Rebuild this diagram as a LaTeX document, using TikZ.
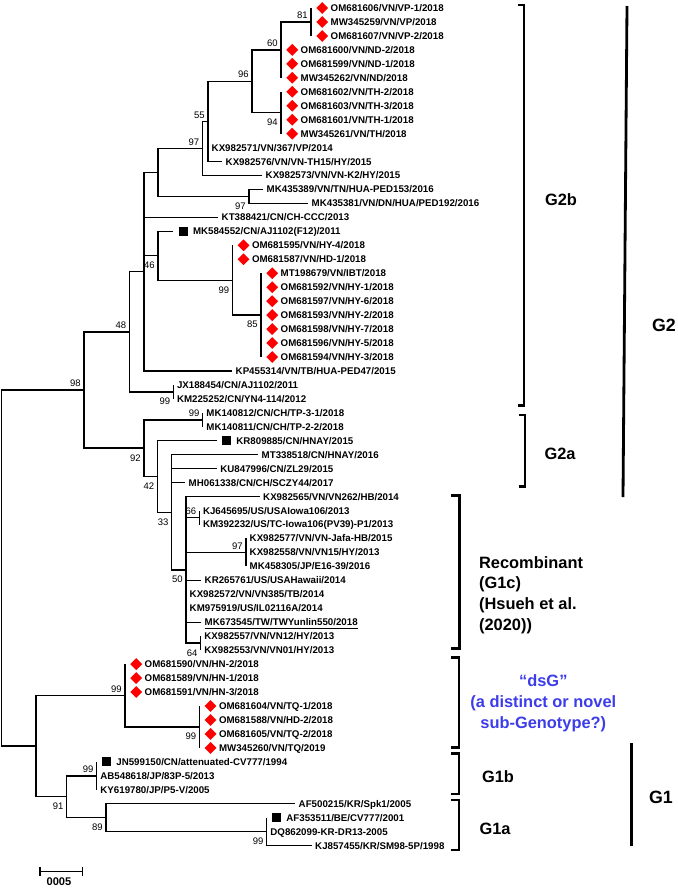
\documentclass[tikz,border=0pt]{standalone}
\usepackage{fontspec}
\setmainfont{Liberation Sans}
\usetikzlibrary{positioning,shapes.geometric,arrows.meta}
\definecolor{dsgblue}{RGB}{60,60,235}

\begin{document}
\begin{tikzpicture}[x=0.03cm, y=-0.03cm,
  branch/.style={line width=1.2pt},
  tiplbl/.style={anchor=west, inner sep=0pt, text height=5.9pt, text depth=0pt, font=\fontsize{8.3}{10}\selectfont\bfseries},
  vnmark/.style={diamond, fill=red, inner sep=0pt, minimum width=3.6mm, minimum height=3.6mm},
  refmark/.style={rectangle, fill=black, inner sep=0pt, minimum size=2.7mm},
  boot/.style={font=\fontsize{8.1}{10}\selectfont, inner sep=0.9mm},
  bootup/.style={boot, anchor=south east},
  bootdn/.style={boot, anchor=north east, yshift=-0.9mm},
  bracket/.style={line width=2.4pt},
  grp/.style={font=\fontsize{14}{17.6}\selectfont\bfseries},
  geno/.style={font=\fontsize{15.2}{18}\selectfont\bfseries}]
\useasboundingbox (0,0) rectangle (678,890);

% internal nodes
\coordinate (root) at (1.5,568.07);
\coordinate (n98) at (84,390);
\coordinate (n48) at (129.3,331.81);
\coordinate (g2bcore) at (144,271.72);
\coordinate (nC) at (158,172.47);
\coordinate (n97a) at (202.3,148.47);
\coordinate (n55) at (208,121.43);
\coordinate (n96) at (252,81.29);
\coordinate (n60) at (281,49.88);
\coordinate (n81) at (311,21.96);
\coordinate (n94) at (281,112.7);
\coordinate (n97b) at (249,196.46);
\coordinate (n46) at (158,255.79);
\coordinate (n99hy) at (232.3,280.22);
\coordinate (n85) at (261,315.12);
\coordinate (n99jx) at (173.3,391.9);
\coordinate (n92) at (144,448.18);
\coordinate (n99tp) at (202.7,419.82);
\coordinate (n42) at (157.3,476.54);
\coordinate (n33) at (171.7,512.31);
\coordinate (n50) at (186,569.89);
\coordinate (n66) at (199.3,517.54);
\coordinate (n97c) at (246,552.44);
\coordinate (n64) at (200.7,643.18);
\coordinate (g1root) at (36,746.14);
\coordinate (n99hn) at (125,695.53);
\coordinate (n99tq) at (199.3,726.94);
\coordinate (n91) at (66.7,796.74);
\coordinate (n99b) at (96.7,775.8);
\coordinate (n89) at (106,817.68);
\coordinate (n99a) at (266.7,831.64);

% G2b tips
\coordinate (OM681606) at (311,8);
\node[vnmark, right=1.5mm of OM681606] (OM681606d) {};
\node[tiplbl, right=0.6mm of OM681606d] (OM681606t) {OM681606/VN/VP-1/2018};
\coordinate (MW345259) at (311,21.96);
\node[vnmark, right=1.5mm of MW345259] (MW345259d) {};
\node[tiplbl, right=0.6mm of MW345259d] (MW345259t) {MW345259/VN/VP/2018};
\coordinate (OM681607) at (311,35.92);
\node[vnmark, right=1.5mm of OM681607] (OM681607d) {};
\node[tiplbl, right=0.6mm of OM681607d] (OM681607t) {OM681607/VN/VP-2/2018};
\coordinate (OM681600) at (281,49.88);
\node[vnmark, right=1.5mm of OM681600] (OM681600d) {};
\node[tiplbl, right=0.6mm of OM681600d] (OM681600t) {OM681600/VN/ND-2/2018};
\coordinate (OM681599) at (281,63.84);
\node[vnmark, right=1.5mm of OM681599] (OM681599d) {};
\node[tiplbl, right=0.6mm of OM681599d] (OM681599t) {OM681599/VN/ND-1/2018};
\coordinate (MW345262) at (281,77.8);
\node[vnmark, right=1.5mm of MW345262] (MW345262d) {};
\node[tiplbl, right=0.6mm of MW345262d] (MW345262t) {MW345262/VN/ND/2018};
\coordinate (OM681602) at (281,91.76);
\node[vnmark, right=1.5mm of OM681602] (OM681602d) {};
\node[tiplbl, right=0.6mm of OM681602d] (OM681602t) {OM681602/VN/TH-2/2018};
\coordinate (OM681603) at (281,105.72);
\node[vnmark, right=1.5mm of OM681603] (OM681603d) {};
\node[tiplbl, right=0.6mm of OM681603d] (OM681603t) {OM681603/VN/TH-3/2018};
\coordinate (OM681601) at (281,119.68);
\node[vnmark, right=1.5mm of OM681601] (OM681601d) {};
\node[tiplbl, right=0.6mm of OM681601d] (OM681601t) {OM681601/VN/TH-1/2018};
\coordinate (MW345261) at (281,133.64);
\node[vnmark, right=1.5mm of MW345261] (MW345261d) {};
\node[tiplbl, right=0.6mm of MW345261d] (MW345261t) {MW345261/VN/TH/2018};
\coordinate (KX982571) at (208,147.6);
\node[tiplbl, right=1.05mm of KX982571] (KX982571t) {KX982571/VN/367/VP/2014};
\coordinate (KX982576) at (222,161.56);
\node[tiplbl, right=1.05mm of KX982576] (KX982576t) {KX982576/VN/VN-TH15/HY/2015};
\coordinate (KX982573) at (262,175.52);
\node[tiplbl, right=1.05mm of KX982573] (KX982573t) {KX982573/VN/VN-K2/HY/2015};
\coordinate (MK435389) at (263,189.48);
\node[tiplbl, right=1.05mm of MK435389] (MK435389t) {MK435389/VN/TN/HUA-PED153/2016};
\coordinate (MK435381) at (308,203.44);
\node[tiplbl, right=1.05mm of MK435381] (MK435381t) {MK435381/VN/DN/HUA/PED192/2016};
\coordinate (KT388421) at (218,217.4);
\node[tiplbl, right=1.05mm of KT388421] (KT388421t) {KT388421/CN/CH-CCC/2013};
\coordinate (MK584552) at (173.3,231.36);
\node[refmark, right=1.5mm of MK584552] (MK584552s) {};
\node[tiplbl, right=1.5mm of MK584552s] (MK584552t) {MK584552/CN/AJ1102(F12)/2011};
\coordinate (OM681595) at (232.3,245.32);
\node[vnmark, right=1.5mm of OM681595] (OM681595d) {};
\node[tiplbl, right=0.6mm of OM681595d] (OM681595t) {OM681595/VN/HY-4/2018};
\coordinate (OM681587) at (232.3,259.28);
\node[vnmark, right=1.5mm of OM681587] (OM681587d) {};
\node[tiplbl, right=0.6mm of OM681587d] (OM681587t) {OM681587/VN/HD-1/2018};
\coordinate (MT198679) at (261,273.24);
\node[vnmark, right=1.5mm of MT198679] (MT198679d) {};
\node[tiplbl, right=0.6mm of MT198679d] (MT198679t) {MT198679/VN/IBT/2018};
\coordinate (OM681592) at (261,287.2);
\node[vnmark, right=1.5mm of OM681592] (OM681592d) {};
\node[tiplbl, right=0.6mm of OM681592d] (OM681592t) {OM681592/VN/HY-1/2018};
\coordinate (OM681597) at (261,301.16);
\node[vnmark, right=1.5mm of OM681597] (OM681597d) {};
\node[tiplbl, right=0.6mm of OM681597d] (OM681597t) {OM681597/VN/HY-6/2018};
\coordinate (OM681593) at (261,315.12);
\node[vnmark, right=1.5mm of OM681593] (OM681593d) {};
\node[tiplbl, right=0.6mm of OM681593d] (OM681593t) {OM681593/VN/HY-2/2018};
\coordinate (OM681598) at (261,329.08);
\node[vnmark, right=1.5mm of OM681598] (OM681598d) {};
\node[tiplbl, right=0.6mm of OM681598d] (OM681598t) {OM681598/VN/HY-7/2018};
\coordinate (OM681596) at (261,343.04);
\node[vnmark, right=1.5mm of OM681596] (OM681596d) {};
\node[tiplbl, right=0.6mm of OM681596d] (OM681596t) {OM681596/VN/HY-5/2018};
\coordinate (OM681594) at (261,357);
\node[vnmark, right=1.5mm of OM681594] (OM681594d) {};
\node[tiplbl, right=0.6mm of OM681594d] (OM681594t) {OM681594/VN/HY-3/2018};
\coordinate (KP455314) at (232,370.96);
\node[tiplbl, right=1.05mm of KP455314] (KP455314t) {KP455314/VN/TB/HUA-PED47/2015};
\coordinate (JX188454) at (173.3,384.92);
\node[tiplbl, right=1.05mm of JX188454] (JX188454t) {JX188454/CN/AJ1102/2011};
\coordinate (KM225252) at (173.3,398.88);
\node[tiplbl, right=1.05mm of KM225252] (KM225252t) {KM225252/CN/YN4-114/2012};

% G2a and recombinant tips
\coordinate (MK140812) at (202.7,412.84);
\node[tiplbl, right=1.05mm of MK140812] (MK140812t) {MK140812/CN/CH/TP-3-1/2018};
\coordinate (MK140811) at (202.7,426.8);
\node[tiplbl, right=1.05mm of MK140811] (MK140811t) {MK140811/CN/CH/TP-2-2/2018};
\coordinate (KR809885) at (216.7,440.76);
\node[refmark, right=1.5mm of KR809885] (KR809885s) {};
\node[tiplbl, right=1.5mm of KR809885s] (KR809885t) {KR809885/CN/HNAY/2015};
\coordinate (MT338518) at (258,454.72);
\node[tiplbl, right=1.05mm of MT338518] (MT338518t) {MT338518/CN/HNAY/2016};
\coordinate (KU847996) at (216.7,468.68);
\node[tiplbl, right=1.05mm of KU847996] (KU847996t) {KU847996/CN/ZL29/2015};
\coordinate (MH061338) at (185,482.64);
\node[tiplbl, right=1.05mm of MH061338] (MH061338t) {MH061338/CN/CH/SCZY44/2017};
\coordinate (KX982565) at (259.5,496.6);
\node[tiplbl, right=1.05mm of KX982565] (KX982565t) {KX982565/VN/VN262/HB/2014};
\coordinate (KJ645695) at (199.3,510.56);
\node[tiplbl, right=1.05mm of KJ645695] (KJ645695t) {KJ645695/US/USAIowa106/2013};
\coordinate (KM392232) at (199.3,524.52);
\node[tiplbl, right=1.05mm of KM392232] (KM392232t) {KM392232/US/TC-Iowa106(PV39)-P1/2013};
\coordinate (KX982577) at (246,538.48);
\node[tiplbl, right=1.05mm of KX982577] (KX982577t) {KX982577/VN/VN-Jafa-HB/2015};
\coordinate (KX982558) at (246,552.44);
\node[tiplbl, right=1.05mm of KX982558] (KX982558t) {KX982558/VN/VN15/HY/2013};
\coordinate (MK458305) at (246,566.4);
\node[tiplbl, right=1.05mm of MK458305] (MK458305t) {MK458305/JP/E16-39/2016};
\coordinate (KR265761) at (201,580.36);
\node[tiplbl, right=1.05mm of KR265761] (KR265761t) {KR265761/US/USAHawaii/2014};
\coordinate (KX982572) at (186,594.32);
\node[tiplbl, right=1.05mm of KX982572] (KX982572t) {KX982572/VN/VN385/TB/2014};
\coordinate (KM975919) at (186,608.28);
\node[tiplbl, right=1.05mm of KM975919] (KM975919t) {KM975919/US/IL02116A/2014};
\coordinate (MK673545) at (201,622.24);
\node[tiplbl, right=1.05mm of MK673545] (MK673545t) {MK673545/TW/TWYunlin550/2018};
\draw[line width=0.6pt] ([yshift=-2.2pt]MK673545t.south west) -- ([yshift=-2.2pt]MK673545t.south east);
\coordinate (KX982557) at (200.7,636.2);
\node[tiplbl, right=1.05mm of KX982557] (KX982557t) {KX982557/VN/VN12/HY/2013};
\coordinate (KX982553) at (200.7,650.16);
\node[tiplbl, right=1.05mm of KX982553] (KX982553t) {KX982553/VN/VN01/HY/2013};

% dsG tips
\coordinate (OM681590) at (125,664.12);
\node[vnmark, right=1.5mm of OM681590] (OM681590d) {};
\node[tiplbl, right=0.6mm of OM681590d] (OM681590t) {OM681590/VN/HN-2/2018};
\coordinate (OM681589) at (125,678.08);
\node[vnmark, right=1.5mm of OM681589] (OM681589d) {};
\node[tiplbl, right=0.6mm of OM681589d] (OM681589t) {OM681589/VN/HN-1/2018};
\coordinate (OM681591) at (125,692.04);
\node[vnmark, right=1.5mm of OM681591] (OM681591d) {};
\node[tiplbl, right=0.6mm of OM681591d] (OM681591t) {OM681591/VN/HN-3/2018};
\coordinate (OM681604) at (199.3,706);
\node[vnmark, right=1.5mm of OM681604] (OM681604d) {};
\node[tiplbl, right=0.6mm of OM681604d] (OM681604t) {OM681604/VN/TQ-1/2018};
\coordinate (OM681588) at (199.3,719.96);
\node[vnmark, right=1.5mm of OM681588] (OM681588d) {};
\node[tiplbl, right=0.6mm of OM681588d] (OM681588t) {OM681588/VN/HD-2/2018};
\coordinate (OM681605) at (199.3,733.92);
\node[vnmark, right=1.5mm of OM681605] (OM681605d) {};
\node[tiplbl, right=0.6mm of OM681605d] (OM681605t) {OM681605/VN/TQ-2/2018};
\coordinate (MW345260) at (199.3,747.88);
\node[vnmark, right=1.5mm of MW345260] (MW345260d) {};
\node[tiplbl, right=0.6mm of MW345260d] (MW345260t) {MW345260/VN/TQ/2019};

% G1 tips
\coordinate (JN599150) at (96.7,761.84);
\node[refmark, right=1.5mm of JN599150] (JN599150s) {};
\node[tiplbl, right=1.5mm of JN599150s] (JN599150t) {JN599150/CN/attenuated-CV777/1994};
\coordinate (AB548618) at (96.7,775.8);
\node[tiplbl, right=1.05mm of AB548618] (AB548618t) {AB548618/JP/83P-5/2013};
\coordinate (KY619780) at (96.7,789.76);
\node[tiplbl, right=1.05mm of KY619780] (KY619780t) {KY619780/JP/P5-V/2005};
\coordinate (AF500215) at (295,803.72);
\node[tiplbl, right=1.05mm of AF500215] (AF500215t) {AF500215/KR/Spk1/2005};
\coordinate (AF353511) at (266.7,817.68);
\node[refmark, right=1.5mm of AF353511] (AF353511s) {};
\node[tiplbl, right=1.5mm of AF353511s] (AF353511t) {AF353511/BE/CV777/2001};
\coordinate (DQ862099) at (266.7,831.64);
\node[tiplbl, right=1.05mm of DQ862099] (DQ862099t) {DQ862099-KR-DR13-2005};
\coordinate (KJ857455) at (311.5,845.6);
\node[tiplbl, right=1.05mm of KJ857455] (KJ857455t) {KJ857455/KR/SM98-5P/1998};

% branches
\draw[branch] (root) |- (n98) (root) |- (g1root);
\draw[branch] (n98) |- (n48) (n98) |- (n92);
\draw[branch] (n48) |- (g2bcore) (n48) |- (n99jx);
\draw[branch] (g2bcore) |- (nC) (g2bcore) |- (KT388421) (g2bcore) |- (n46) (g2bcore) |- (KP455314);
\draw[branch] (nC) |- (n97a) (nC) |- (n97b);
\draw[branch] (n97a) |- (n55) (n97a) |- (KX982573);
\draw[branch] (n55) |- (n96) (n55) |- (KX982571) (n55) |- (KX982576);
\draw[branch] (n96) |- (n60) (n96) |- (n94);
\draw[branch] (n60) |- (n81) (n60) |- (OM681600) (n60) |- (OM681599) (n60) |- (MW345262);
\draw[branch] (n81) |- (OM681606) (n81) |- (MW345259) (n81) |- (OM681607);
\draw[branch] (n94) |- (OM681602) (n94) |- (OM681603) (n94) |- (OM681601) (n94) |- (MW345261);
\draw[branch] (n97b) |- (MK435389) (n97b) |- (MK435381);
\draw[branch] (n46) |- (MK584552) (n46) |- (n99hy);
\draw[branch] (n99hy) |- (OM681595) (n99hy) |- (OM681587) (n99hy) |- (n85);
\draw[branch] (n85) |- (MT198679) (n85) |- (OM681594);
\draw[branch] (n99jx) |- (JX188454) (n99jx) |- (KM225252);
\draw[branch] (n92) |- (n99tp) (n92) |- (n42);
\draw[branch] (n99tp) |- (MK140812) (n99tp) |- (MK140811);
\draw[branch] (n42) |- (KR809885) (n42) |- (n33);
\draw[branch] (n33) |- (MT338518) (n33) |- (KU847996) (n33) |- (MH061338) (n33) |- (n50);
\draw[branch] (n50) |- (KX982565) (n50) |- (n66) (n50) |- (n97c) (n50) |- (KR265761)
  (n50) |- (KX982572) (n50) |- (KM975919) (n50) |- (MK673545) (n50) |- (n64);
\draw[branch] (n66) |- (KJ645695) (n66) |- (KM392232);
\draw[branch] (n97c) |- (KX982577) (n97c) |- (MK458305);
\draw[branch] (n64) |- (KX982557) (n64) |- (KX982553);
\draw[branch] (g1root) |- (n99hn) (g1root) |- (n91);
\draw[branch] (n99hn) |- (OM681590) (n99hn) |- (n99tq);
\draw[branch] (n99tq) |- (OM681604) (n99tq) |- (MW345260);
\draw[branch] (n91) |- (n99b) (n91) |- (n89);
\draw[branch] (n99b) |- (JN599150) (n99b) |- (KY619780);
\draw[branch] (n89) |- (AF500215) (n89) |- (n99a);
\draw[branch] (n99a) |- (AF353511) (n99a) |- (KJ857455);

% bootstrap values
\node[bootup] (b81) at (n81) {81};
\node[bootup] (b60) at (n60) {60};
\node[bootup] (b96) at (n96) {96};
\node[bootup] (b55) at (n55) {55};
\node[bootup] (b97a) at (n97a) {97};
\node[bootup] (b48) at (n48) {48};
\node[bootup] (b98) at (n98) {98};
\node[bootup] (b99tp) at (n99tp) {99};
\node[bootup] (b66) at (n66) {66};
\node[bootup] (b97c) at (n97c) {97};
\node[bootup] (b99hn) at (n99hn) {99};
\node[bootup] (b99b) at (n99b) {99};
\node[bootdn] (b94) at (n94) {94};
\node[bootdn] (b97b) at (n97b) {97};
\node[bootdn] (b46) at (n46) {46};
\node[bootdn] (b99hy) at (n99hy) {99};
\node[bootdn] (b85) at (n85) {85};
\node[bootdn] (b99jx) at (n99jx) {99};
\node[bootdn] (b92) at (n92) {92};
\node[bootdn] (b42) at (n42) {42};
\node[bootdn] (b33) at (n33) {33};
\node[bootdn] (b50) at (n50) {50};
\node[bootdn] (b64) at (n64) {64};
\node[bootdn] (b99tq) at (n99tq) {99};
\node[bootdn] (b91) at (n91) {91};
\node[bootdn] (b89) at (n89) {89};
\node[bootdn] (b99a) at (n99a) {99};

% scale bar
\coordinate (sbl) at (39.3,871.7);
\coordinate (sbr) at (83.3,871.7);
\draw[line width=1.3pt, {Bar[width=2.6mm]}-{Bar[width=2.6mm]}] (sbl) -- (sbr);
\node[font=\fontsize{9.5}{11}\selectfont\bfseries] (sbtxt) at (59,882) {0005};

% groups
\draw[bracket] (517.5,5) -- (524,5) -- (524,405.7) -- (517.5,405.7);
\draw[bracket] (519,415) -- (525,415) -- (525,486.7) -- (519,486.7);
\draw[bracket] (451,495.5) -- (459.5,495.5) -- (459.5,648.3) -- (451,648.3);
\draw[bracket] (451,657.3) -- (459,657.3) -- (459,747.3) -- (451,747.3);
\draw[bracket] (451,753.3) -- (459,753.3) -- (459,794) -- (451,794);
\draw[bracket] (451,800) -- (459,800) -- (459,850) -- (451,850);
\draw[bracket] (627,6) -- (623,497);
\draw[bracket] (631.7,743) -- (631.7,846);

\node[grp] (g2btxt) at (561,200) {G2b};
\node[geno] (g2txt) at (664,325) {G2};
\node[grp] (g2atxt) at (560,454) {G2a};
\node[grp, anchor=west, align=left] (rectxt) at (475,595) {Recombinant\\(G1c)\\(Hsueh et al.\\(2020))};
\node[grp, text=dsgblue, align=center, font=\fontsize{14}{17.9}\selectfont\bfseries] (dsgtxt) at (543.3,703.3) {“dsG”\\(a distinct or novel\\sub-Genotype?)};
\node[grp] (g1btxt) at (498,777) {G1b};
\node[grp] (g1atxt) at (495,829) {G1a};
\node[geno] (g1txt) at (661,797) {G1};

\end{tikzpicture}
\end{document}
